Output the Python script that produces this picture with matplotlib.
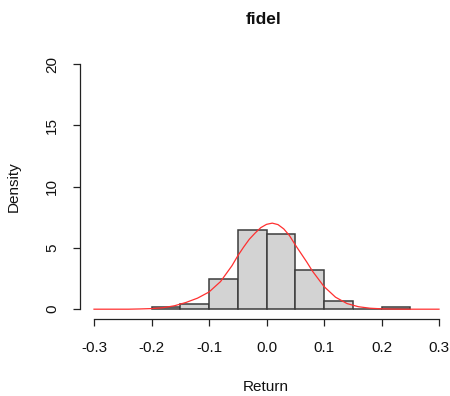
import numpy as np
import matplotlib
matplotlib.use("Agg")
import matplotlib.pyplot as plt

plt.rcParams['font.family'] = ['Liberation Sans', 'DejaVu Sans']

# Datos
bin_edges = [-0.20, -0.15, -0.10, -0.05, 0.00, 0.05, 0.10, 0.15, 0.20, 0.25]
densidad = [0.19, 0.43, 2.48, 6.48, 6.17, 3.22, 0.63, 0.0, 0.16]

curva_x = [-0.30, -0.24, -0.22, -0.20, -0.18, -0.16, -0.14, -0.12, -0.10, -0.08,
           -0.06, -0.05, -0.04, -0.03, -0.02, -0.01, 0.00, 0.01, 0.02, 0.03,
           0.04, 0.05, 0.06, 0.07, 0.08, 0.10, 0.12,
           0.14, 0.16, 0.18, 0.20, 0.22, 0.24, 0.30]
curva_y = [0.0, 0.0, 0.02, 0.05, 0.12, 0.28, 0.55, 0.90, 1.40, 2.25,
           3.55, 4.35, 5.05, 5.70, 6.20, 6.65, 6.92, 7.02, 6.90, 6.55,
           6.00, 5.25, 4.55, 3.85, 3.10, 1.85, 0.98,
           0.46, 0.20, 0.08, 0.03, 0.01, 0.0, 0.0]

x_ticks = [-0.3, -0.2, -0.1, 0.0, 0.1, 0.2, 0.3]
x_labels = ['-0.3', '-0.2', '-0.1', '0.0', '0.1', '0.2', '0.3']
y_ticks = [0, 5, 10, 15, 20]

W, H = 450, 396
fig = plt.figure(figsize=(W / 100, H / 100), dpi=100)
ax = fig.add_axes([80.2 / W, 1 - 319 / H, 372.6 / W, 264.8 / H])

# Histograma
anchos = np.diff(bin_edges)
ax.bar(bin_edges[:-1], densidad, width=anchos, align='edge',
       color='#d3d3d3', edgecolor='#3c3c3c', linewidth=1.1)
ax.plot(curva_x, curva_y, color='#ff3030', linewidth=0.9)

ax.set_xlim(-0.324, 0.324)
ax.set_ylim(-0.8, 20.8)

for s in ['top', 'right']:
    ax.spines[s].set_visible(False)
ax.spines['left'].set_bounds(0, 20)
ax.spines['bottom'].set_bounds(-0.3, 0.3)
for s in ['left', 'bottom']:
    ax.spines[s].set_color('#222222')
    ax.spines[s].set_linewidth(0.9)

ax.set_xticks(x_ticks)
ax.set_xticklabels(x_labels)
ax.set_yticks(y_ticks)
ax.tick_params(axis='both', direction='out', length=5, width=0.9,
               color='#222222', labelsize=11, labelcolor='#111111')
ax.tick_params(axis='x', pad=11)
ax.tick_params(axis='y', pad=10)
for lab in ax.get_yticklabels():
    lab.set_rotation(90)
    lab.set_va('center')

# Etiquetas y título
fig.text(14 / W, 1 - 186.5 / H, 'Density', rotation=90, ha='center', va='center',
         fontsize=11, color='#111111')
fig.text(266 / W, 1 - 387 / H, 'Return', ha='center', va='center',
         fontsize=11, color='#111111')
fig.text(264 / W, 1 - 24 / H, 'fidel', ha='center', va='baseline',
         fontsize=12.5, fontweight='bold', color='#111111')

fig.savefig('out.png', dpi=100)
